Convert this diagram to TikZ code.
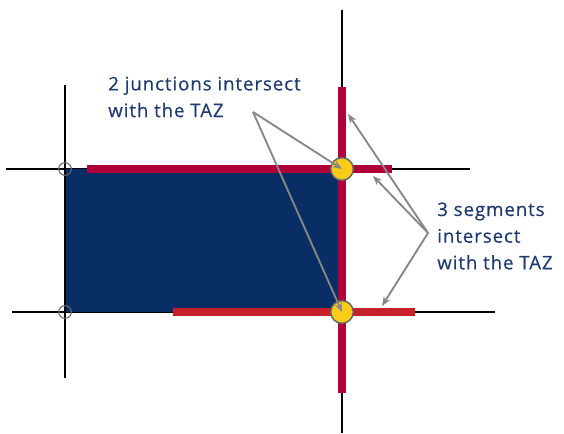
\documentclass[tikz,border=0pt]{standalone}
\usepackage{fontspec}
\usepackage{tikz}
\usetikzlibrary{arrows.meta}
\newfontfamily\tazfont[LetterSpace=5,FakeBold=0.4]{Open Sans}
\definecolor{tazblue}{RGB}{9,46,102}
\definecolor{roadcrimson}{RGB}{176,0,58}
\definecolor{roadred}{RGB}{200,32,42}
\definecolor{junyellow}{RGB}{249,204,26}
\definecolor{pointgray}{RGB}{135,135,135}
\definecolor{labelblue}{RGB}{30,58,110}

\begin{document}
\begin{tikzpicture}[x={(0.75pt,0pt)}, y={(0pt,-0.75pt)},
    road/.style={black, line width=0.9pt},
    hitroad/.style={line width=6pt},
    junction/.style={circle, draw=black!60, line width=1.1pt, fill=junyellow, minimum size=17pt, inner sep=0pt},
    endring/.style={circle, draw=black!60, line width=0.8pt, minimum size=9.5pt, inner sep=0pt},
    pointer/.style={pointgray, line width=1.4pt, -{Stealth[length=7pt,width=5.5pt]}},
    tazlabel/.style={labelblue, font=\tazfont\fontsize{14}{20}\selectfont, align=left, inner sep=0pt, anchor=west}]
        \useasboundingbox (0,0) rectangle (564,434);
        % road network
        \draw[road] (6,169)--(470,169);
        \draw[road] (12,312)--(495,312);
        \draw[road] (65,85)--(65,378);
        \draw[road] (342,10)--(342,433);
        % traffic analysis zone
        \fill[tazblue] (65,169) rectangle (342,312);
        \draw[road] (65,169)--(65,312);
        % segments that intersect
        \draw[hitroad, roadcrimson] (87,169)--(392,169);
        \draw[hitroad, roadred] (173,312)--(415,312);
        \draw[hitroad, roadcrimson] (342,87)--(342,393);
        % junctions
        \node[endring] (ltop) at (65,169) {};
        \node[endring] (lbot) at (65,312) {};
        \node[junction] (jtop) at (342,169) {};
        \node[junction] (jbot) at (342,312) {};
        % labels and pointers
        \node[tazlabel] (juntext) at (108,97) {2 junctions intersect\\with the TAZ};
        \node[tazlabel] (segtext) at (437,236) {3 segments\\intersect\\with the TAZ};
        \coordinate (junfrom) at (253,112);
        \coordinate (segfrom) at (428,233);
        \coordinate (segup) at (348,114);
        \coordinate (segright) at (373,176);
        \coordinate (segbot) at (382,306);
        \draw[pointer] (junfrom)--(jtop.center);
        \draw[pointer] (junfrom)--(jbot.center);
        \draw[pointer] (segfrom)--(segup);
        \draw[pointer] (segfrom)--(segright);
        \draw[pointer] (segfrom)--(segbot);
    \end{tikzpicture}
\end{document}
